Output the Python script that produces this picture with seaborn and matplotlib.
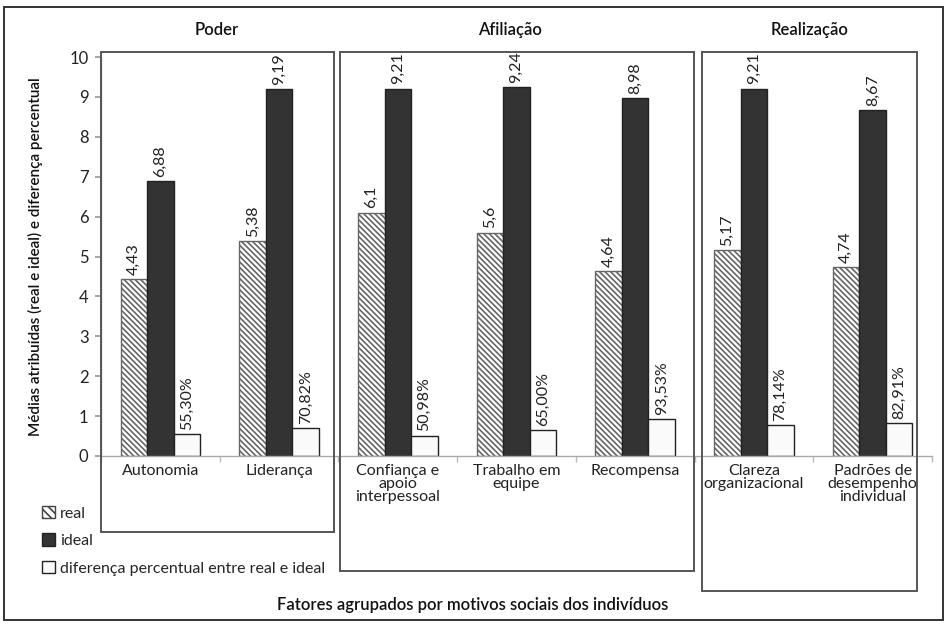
import matplotlib
matplotlib.use("Agg")
import matplotlib.pyplot as plt
from matplotlib.patches import Rectangle, Patch
from matplotlib.ticker import FixedLocator
import seaborn as sns
import pandas as pd

categories = ["Autonomia", "Liderança", "Confiança e\napoio\ninterpessoal",
              "Trabalho em\nequipe", "Recompensa", "Clareza\norganizacional",
              "Padrões de\ndesempenho\nindividual"]
real = [4.43, 5.38, 6.1, 5.6, 4.64, 5.17, 4.74]
ideal = [6.88, 9.19, 9.21, 9.24, 8.98, 9.21, 8.67]
pct_diff = [55.30, 70.82, 50.98, 65.00, 93.53, 78.14, 82.91]
series = ["real", "ideal", "diferença percentual entre real e ideal"]
groups = ["Poder", "Afiliação", "Realização"]

sns.set_theme(style="white")
plt.rcParams["font.family"] = ["Lato", "DejaVu Sans"]
plt.rcParams["hatch.color"] = "#a0a0a0"
plt.rcParams["hatch.linewidth"] = 1.2

rows = []
for c, r, i, p in zip(categories, real, ideal, pct_diff):
    rows.append((c, series[0], r))
    rows.append((c, series[1], i))
    rows.append((c, series[2], p / 100))
df = pd.DataFrame(rows, columns=["fator", "serie", "valor"])

W, H = 947, 626
fig = plt.figure(figsize=(W / 100, H / 100), dpi=100)
ax = fig.add_axes([101 / W, 1 - 456 / H, (932 - 101) / W, (456 - 57) / H])

sns.barplot(data=df, x="fator", y="valor", hue="serie", order=categories,
            hue_order=series, palette=["white", "#333333", "#fafafa"],
            width=0.67, edgecolor="#222222", linewidth=1.0, ax=ax,
            legend=False)

for cont, s in zip(ax.containers, series):
    for bar in cont:
        if s == "real":
            bar.set_hatch("\\\\\\\\\\\\")
            bar.set_edgecolor("#666666")

labels_real = [str(v).replace(".", ",") for v in real]
labels_ideal = [str(v).replace(".", ",") for v in ideal]
labels_pct = [f"{v:.2f}%".replace(".", ",") for v in pct_diff]
for cont, labs in zip(ax.containers, [labels_real, labels_ideal, labels_pct]):
    ax.bar_label(cont, labels=labs, rotation=90, padding=3, fontsize=11.5,
                 color="#222222")

ax.set_ylim(0, 10)
ax.set_xlim(-0.5, len(categories) - 0.5)
ax.set_yticks(range(0, 11))
ax.tick_params(axis="y", labelsize=12, length=4, color="#999999",
               left=True, pad=5, labelcolor="#222222")
ax.tick_params(axis="x", which="major", length=0, labelsize=11.5, pad=6,
               labelcolor="#222222")
ax.xaxis.set_minor_locator(FixedLocator([k - 0.5 for k in range(len(categories) + 1)]))
ax.tick_params(axis="x", which="minor", bottom=True, length=4, color="#bbbbbb")
for t in ax.get_xticklabels():
    t.set_linespacing(0.9)
    t.set_multialignment("center")
ax.set_xlabel("")
ax.set_ylabel("Médias atribuídas (real e ideal) e diferença percentual",
              fontsize=11, fontweight="semibold", labelpad=19, color="#111111")
for side in ["top", "right"]:
    ax.spines[side].set_visible(False)
for side in ["left", "bottom"]:
    ax.spines[side].set_color("#aaaaaa")
    ax.spines[side].set_linewidth(1.0)

# group frames (pixel extents) and their titles
boxes = [(101, 334, 52, 532), (340, 694, 52, 571), (702, 917, 52, 591)]
title_x = [217, 510, 810]
for (x0, x1, y0, y1), g, tx in zip(boxes, groups, title_x):
    fig.patches.append(Rectangle((x0 / W, 1 - y1 / H), (x1 - x0) / W,
                                 (y1 - y0) / H, transform=fig.transFigure,
                                 fill=False, edgecolor="#555555", linewidth=1.4))
    fig.text(tx / W, 1 - 30 / H, g, ha="center", va="center", fontsize=12,
             fontweight="semibold", color="#111111")

# outer frame
fig.patches.append(Rectangle((4 / W, 1 - 620 / H), 939 / W, 613 / H,
                             transform=fig.transFigure, fill=False,
                             edgecolor="#333333", linewidth=1.4))

handles = [Patch(facecolor="white", edgecolor="#444444", hatch="\\\\\\\\"),
           Patch(facecolor="#333333", edgecolor="#222222"),
           Patch(facecolor="#fafafa", edgecolor="#222222")]
fig.legend(handles, series, loc="upper left",
           bbox_to_anchor=(42 / W, 1 - 506 / H), frameon=False,
           handlelength=0.8, handleheight=0.8, handletextpad=0.35,
           labelspacing=0.8, borderaxespad=0, borderpad=0,
           prop={"size": 11.5})

fig.text(473 / W, 1 - 605 / H,
         "Fatores agrupados por motivos sociais dos indivíduos",
         ha="center", va="center", fontsize=12, fontweight="semibold",
         color="#111111")

fig.savefig("out.png", dpi=100, facecolor="white")
